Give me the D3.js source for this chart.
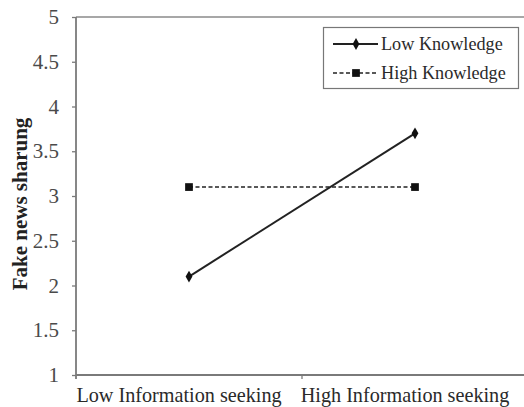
<!DOCTYPE html>
<html>
<head>
<meta charset="utf-8">
<script src="https://cdn.jsdelivr.net/npm/d3@7"></script>
<style>
  html, body { margin: 0; padding: 0; background: #fff; }
  svg { display: block; }
</style>
</head>
<body>
<svg id="chart" width="524" height="407"></svg>
<script>
// ---- data ----
const categories = ["Low Information seeking", "High Information seeking"];
const seriesNames = ["Low Knowledge", "High Knowledge"];
const lowKnowledge = [2.1, 3.7];
const highKnowledge = [3.1, 3.1];
const yTicks = [1, 1.5, 2, 2.5, 3, 3.5, 4, 4.5, 5];
const yTickLabels = ["1", "1.5", "2", "2.5", "3", "3.5", "4", "4.5", "5"];
const yTitle = "Fake news sharung";

(function () {
// ---- layout ----
const W = 524, H = 407;
const pLeft = 76, pRight = 528, pTop = 17, pBottom = 375;
const font = "'Liberation Serif', 'Times New Roman', serif";

const svg = d3.select("#chart");

const x = d3.scaleBand().domain(categories).range([pLeft, pRight]).padding(0);
const y = d3.scaleLinear().domain([1, 5]).range([pBottom, pTop]);
const cx = c => x(c) + x.bandwidth() / 2;

// top border line
svg.append("line")
  .attr("x1", pLeft).attr("x2", W)
  .attr("y1", y(5)).attr("y2", y(5))
  .attr("stroke", "#8a8a8a").attr("stroke-width", 1.5);

// y axis
const yAxis = d3.axisLeft(y)
  .tickValues(yTicks)
  .tickFormat((d, i) => yTickLabels[i])
  .tickSize(4).tickSizeOuter(0).tickPadding(13);
const gy = svg.append("g").attr("transform", `translate(${pLeft},0)`).call(yAxis);
gy.select(".domain").attr("stroke", "#7a7a7a").attr("stroke-width", 1.8)
  .attr("d", `M0,${pTop}V${pBottom + 4}`);
gy.selectAll(".tick line").attr("stroke", "#7a7a7a").attr("stroke-width", 1.3);
gy.selectAll(".tick text")
  .attr("font-family", font).attr("font-size", 21).attr("fill", "#4a4a4a");

// x axis
const xAxis = d3.axisBottom(x).tickSize(0).tickSizeOuter(0).tickPadding(20);
const gx = svg.append("g").attr("transform", `translate(0,${pBottom})`).call(xAxis);
gx.select(".domain").attr("stroke", "#7a7a7a").attr("stroke-width", 1.8)
  .attr("d", `M${pLeft},0H${W}`);
gx.selectAll(".tick text")
  .attr("font-family", font).attr("font-size", 20.2).attr("fill", "#2a2a2a")
  .attr("dx", -10).attr("dy", "0.35em");
// category boundary ticks
const bounds = categories.map(c => x(c)).concat([x.range()[1]]);
gx.selectAll(".bound").data(bounds.slice(1)).enter().append("line")
  .attr("class", "bound")
  .attr("x1", d => d).attr("x2", d => d)
  .attr("y1", 0).attr("y2", 4)
  .attr("stroke", "#7a7a7a").attr("stroke-width", 1.3);

// y title
svg.append("text")
  .attr("transform", `translate(20,${(pTop + pBottom) / 2 + 8}) rotate(-90)`)
  .attr("text-anchor", "middle").attr("dominant-baseline", "central")
  .attr("font-family", font).attr("font-size", 21).attr("font-weight", "bold")
  .attr("fill", "#222")
  .text(yTitle);

// lines
const line = d3.line().x((d, i) => cx(categories[i])).y(d => y(d));
svg.append("path").datum(highKnowledge)
  .attr("d", line).attr("fill", "none")
  .attr("stroke", "#222").attr("stroke-width", 1.6)
  .attr("stroke-dasharray", "4,2.5");
svg.append("path").datum(lowKnowledge)
  .attr("d", line).attr("fill", "none")
  .attr("stroke", "#222").attr("stroke-width", 2);

const diamond = d3.symbol().type(d3.symbolDiamond).size(40);
const square = d3.symbol().type(d3.symbolSquare).size(60);

svg.selectAll(".pt-low").data(lowKnowledge).enter().append("path")
  .attr("transform", (d, i) => `translate(${cx(categories[i])},${y(d)})`)
  .attr("d", diamond).attr("fill", "#111");
svg.selectAll(".pt-high").data(highKnowledge).enter().append("path")
  .attr("transform", (d, i) => `translate(${cx(categories[i])},${y(d)})`)
  .attr("d", square).attr("fill", "#111");

// legend
const lg = svg.append("g");
lg.append("rect")
  .attr("x", 323.5).attr("y", 27.5).attr("width", 195).attr("height", 61)
  .attr("fill", "#fff").attr("stroke", "#777").attr("stroke-width", 1.2);
const rows = [
  { name: seriesNames[0], y: 44, dash: null, sym: diamond, sw: 2 },
  { name: seriesNames[1], y: 73, dash: "4,2.5", sym: square, sw: 1.6 }
];
rows.forEach(r => {
  lg.append("line").attr("x1", 333).attr("x2", 378).attr("y1", r.y).attr("y2", r.y)
    .attr("stroke", "#222").attr("stroke-width", r.sw)
    .attr("stroke-dasharray", r.dash);
  lg.append("path").attr("transform", `translate(356,${r.y})`).attr("d", r.sym).attr("fill", "#111");
  lg.append("text").attr("x", 381).attr("y", r.y).attr("dy", "0.33em")
    .attr("font-family", font).attr("font-size", 18.2).attr("fill", "#2a2a2a")
    .text(r.name);
});
})();
</script>
</body>
</html>
